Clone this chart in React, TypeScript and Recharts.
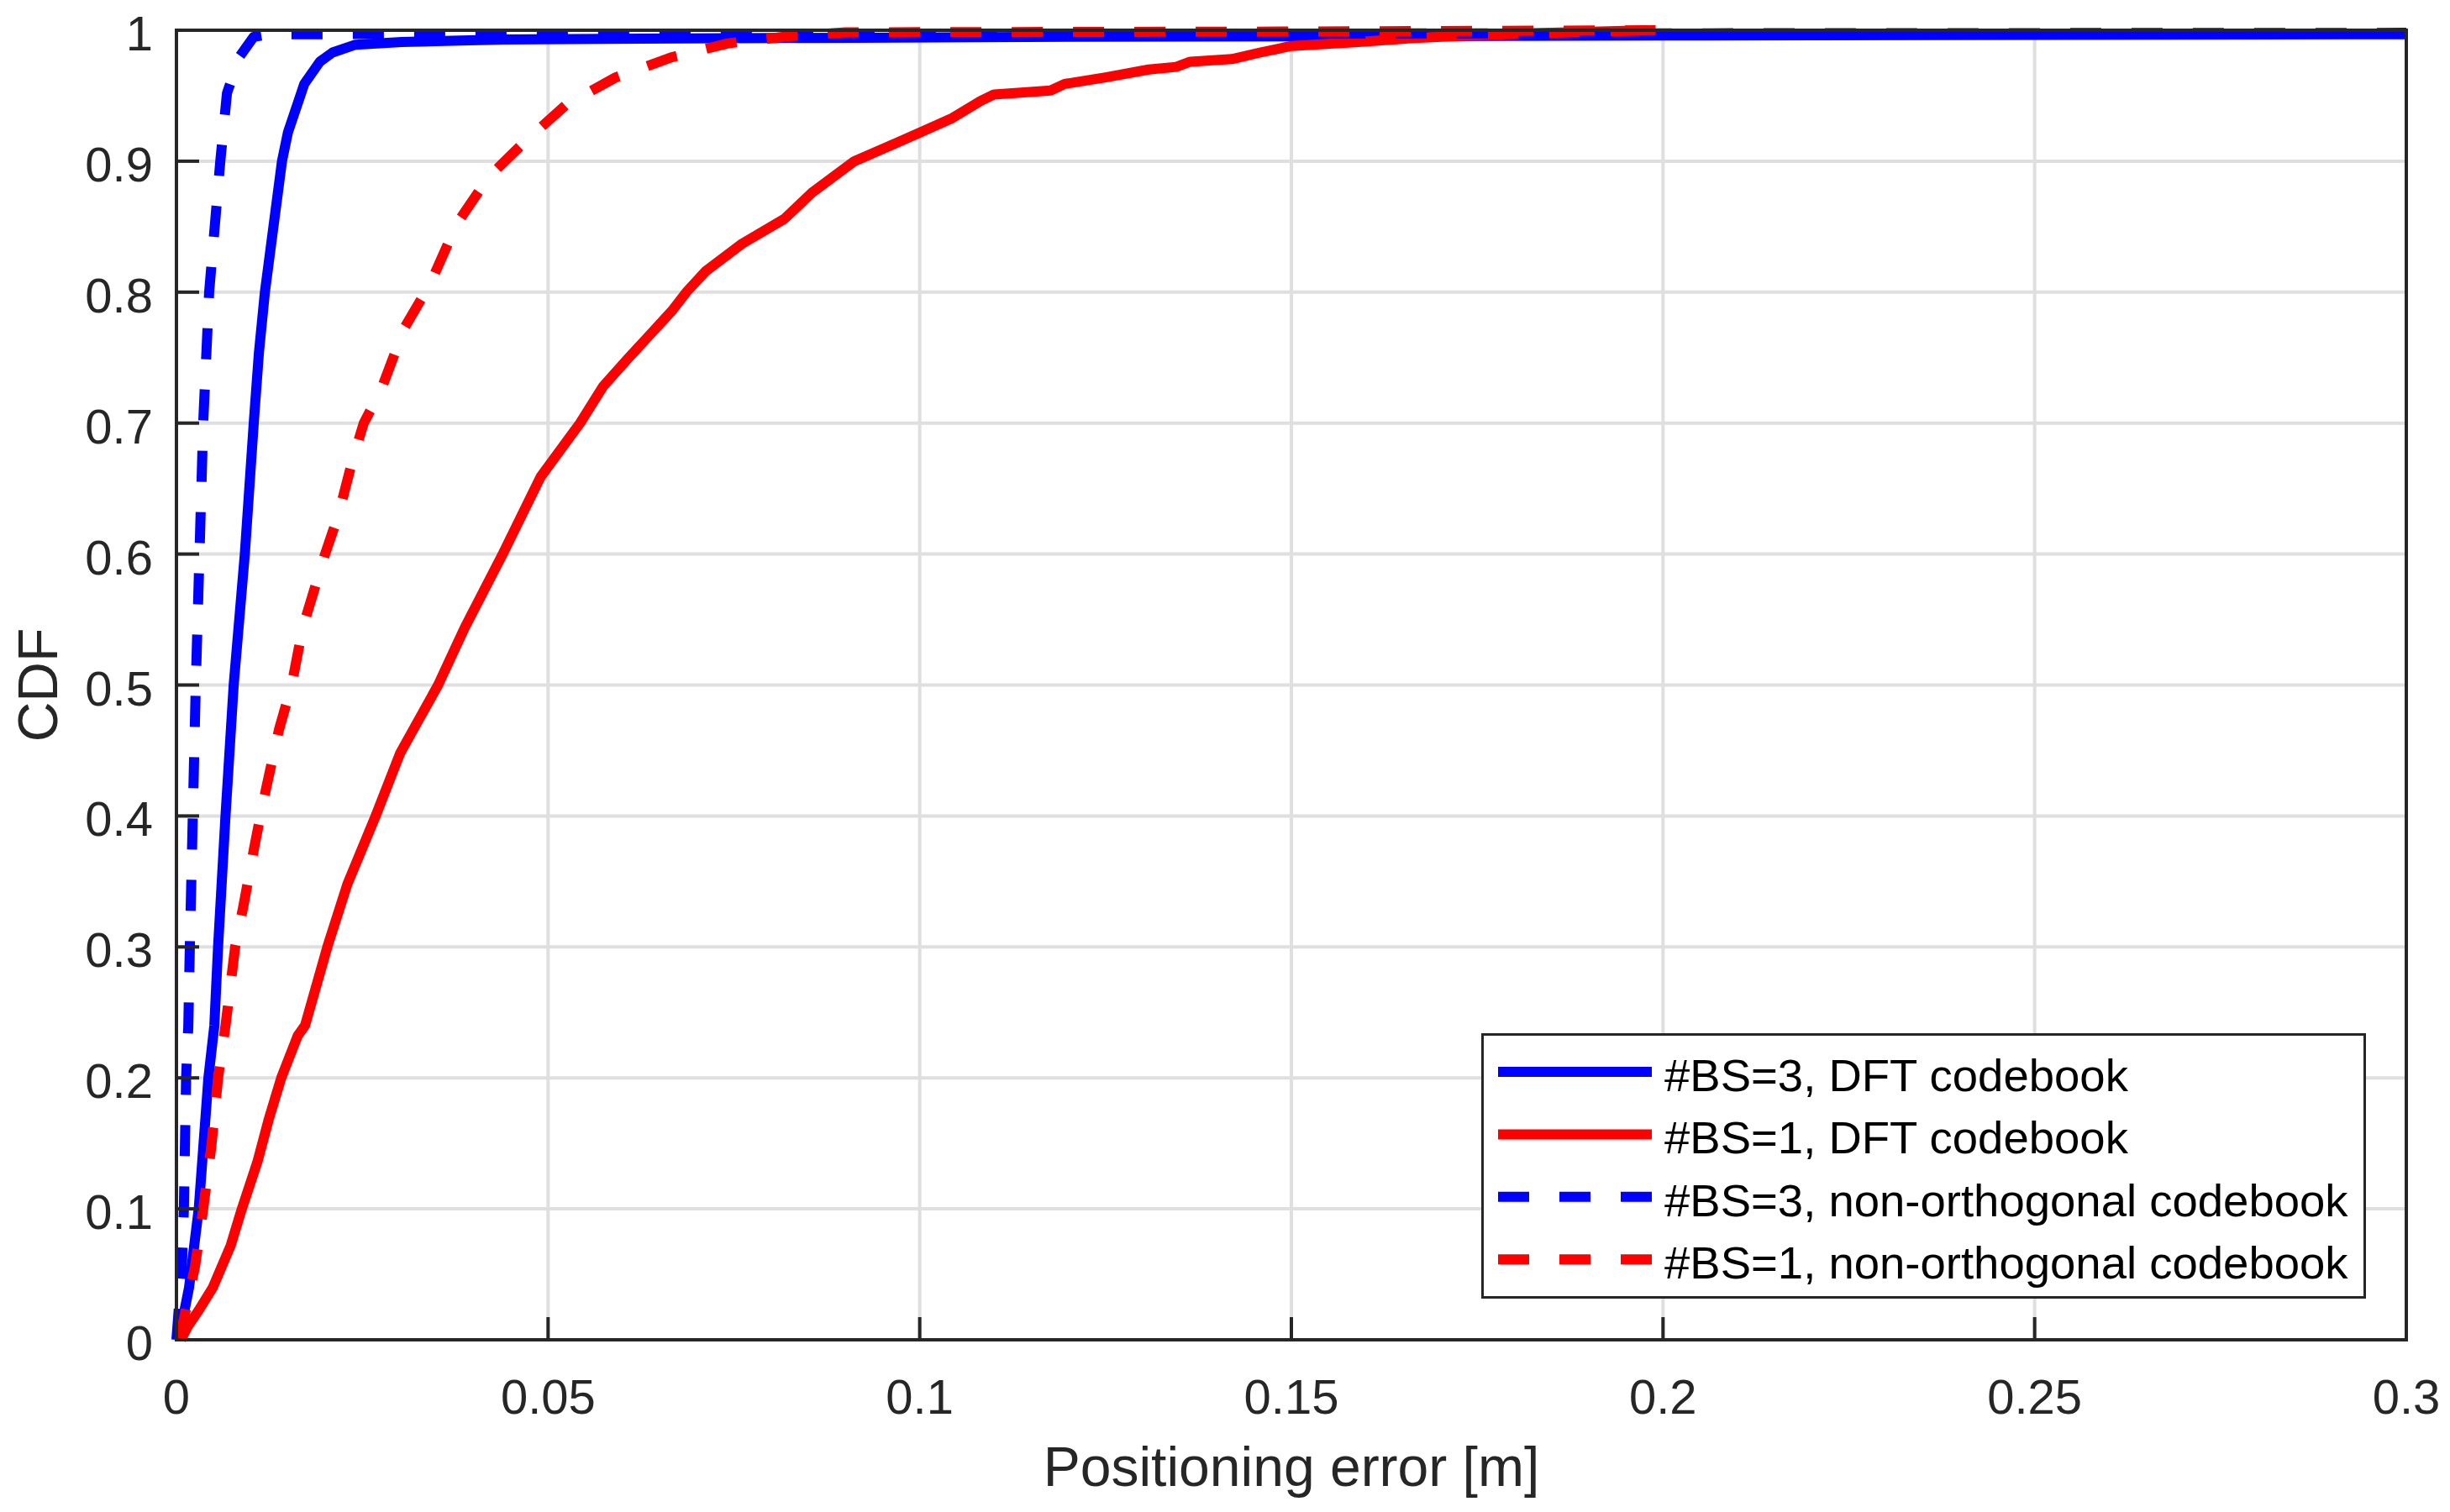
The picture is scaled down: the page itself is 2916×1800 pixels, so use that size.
import { CartesianGrid, Label, Legend, Line, LineChart, XAxis, YAxis } from 'recharts';

const FONT = '"Liberation Sans", Arial, Helvetica, sans-serif';
const AXIS_COLOR = '#262626';
const GRID_COLOR = '#dfdfdf';

const CHART_W = 2900;
const CHART_H = 1784;

const xTicks = [0, 0.05, 0.1, 0.15, 0.2, 0.25, 0.3];
const yTicks = [0, 0.1, 0.2, 0.3, 0.4, 0.5, 0.6, 0.7, 0.8, 0.9, 1];

// #BS=3, DFT codebook
const bs3DftError = [
  0.0003, 0.0017, 0.003, 0.0043, 0.0051, 0.0056, 0.0066, 0.0077, 0.0092, 0.0104, 0.0111, 0.0119,
  0.0142, 0.015, 0.0172, 0.0193, 0.021, 0.0241, 0.0303, 0.044, 0.08, 0.12, 0.2, 0.3,
];
const bs3DftCdf = [
  0, 0.04, 0.1, 0.2, 0.24, 0.3, 0.4, 0.5, 0.6, 0.7, 0.754, 0.8, 0.9, 0.922, 0.959, 0.976, 0.983,
  0.989, 0.991, 0.993, 0.994, 0.995, 0.996, 0.997,
];

// #BS=1, DFT codebook
const bs1DftError = [
  0.0006, 0.0015, 0.003, 0.0049, 0.0073, 0.0088, 0.0109, 0.0124, 0.0141, 0.0163, 0.0173, 0.0203,
  0.023, 0.0268, 0.0301, 0.0352, 0.0388, 0.0439, 0.049, 0.0543, 0.0574, 0.0607, 0.0667, 0.0686,
  0.0712, 0.0761, 0.0818, 0.0855, 0.0912, 0.0969, 0.1001, 0.1044, 0.1082, 0.11, 0.1176, 0.1195,
  0.125, 0.1308, 0.1345, 0.1364, 0.142, 0.1458, 0.15, 0.159, 0.1665, 0.174, 0.185, 0.198,
];
const bs1DftCdf = [
  0, 0.01, 0.0225, 0.04, 0.072, 0.1, 0.136, 0.168, 0.2, 0.232, 0.24, 0.3, 0.348, 0.4, 0.448, 0.5,
  0.544, 0.6, 0.659, 0.7, 0.728, 0.749, 0.786, 0.8, 0.816, 0.837, 0.856, 0.876, 0.9, 0.914, 0.922,
  0.933, 0.946, 0.951, 0.954, 0.959, 0.964, 0.97, 0.972, 0.976, 0.978, 0.983, 0.988, 0.991, 0.994,
  0.996, 0.998, 1,
];

// #BS=3, non-orthogonal codebook
const bs3NonOrthError = [
  0, 0.0004, 0.0007, 0.001, 0.0013, 0.0016, 0.0018, 0.0022, 0.0026, 0.0031, 0.0036, 0.0044,
  0.0059, 0.0068, 0.0085, 0.0104, 0.0125, 0.3,
];
const bs3NonOrthCdf = [
  0, 0.03, 0.05, 0.1, 0.2, 0.24, 0.3, 0.4, 0.5, 0.6, 0.7, 0.8, 0.9, 0.952, 0.98, 0.995, 0.997,
  0.998,
];

// #BS=1, non-orthogonal codebook
const bs1NonOrthError = [
  0.0004, 0.0025, 0.0036, 0.0047, 0.0056, 0.0066, 0.0079, 0.009, 0.0105, 0.0113, 0.0121, 0.0138,
  0.0155, 0.017, 0.02, 0.0218, 0.0237, 0.0252, 0.0275, 0.0307, 0.0342, 0.0377, 0.042, 0.0467,
  0.0524, 0.0591, 0.0667, 0.0742, 0.0825, 0.09, 0.15, 0.199,
];
const bs1NonOrthCdf = [
  0, 0.056, 0.1, 0.148, 0.2, 0.24, 0.3, 0.331, 0.377, 0.4, 0.422, 0.466, 0.5, 0.544, 0.6, 0.63,
  0.672, 0.7, 0.725, 0.773, 0.807, 0.852, 0.888, 0.914, 0.943, 0.964, 0.9795, 0.99, 0.9955,
  0.9984, 0.999, 1,
];

const toPoints = (xs: number[], ys: number[]) => xs.map((x, i) => ({ x, cdf: ys[i] }));

const series = [
  { name: '#BS=3, DFT codebook', color: '#0000ff', dashed: false, data: toPoints(bs3DftError, bs3DftCdf) },
  { name: '#BS=1, DFT codebook', color: '#ff0000', dashed: false, data: toPoints(bs1DftError, bs1DftCdf) },
  {
    name: '#BS=3, non-orthogonal codebook',
    color: '#0000ff',
    dashed: true,
    data: toPoints(bs3NonOrthError, bs3NonOrthCdf),
  },
  {
    name: '#BS=1, non-orthogonal codebook',
    color: '#ff0000',
    dashed: true,
    data: toPoints(bs1NonOrthError, bs1NonOrthCdf),
  },
];
const seriesOrder = series.map((s) => s.name);

const LEGEND_LEFT = 1755;
const LEGEND_TOP = 1222;
const LEGEND_W = 1053;
const LEGEND_H = 316;
const ROW_GAP = 74.4;

const axisLineStyle = { stroke: AXIS_COLOR, strokeWidth: 4, strokeLinecap: 'square' as const };
const tickLineStyle = { stroke: AXIS_COLOR, strokeWidth: 4 };

const XTick = ({ x, y, payload }: any) => (
  <text x={x} y={y + 41} textAnchor="middle" fill={AXIS_COLOR} fontSize={58} fontFamily={FONT}>
    {String(payload.value)}
  </text>
);

const YTick = ({ x, y, payload }: any) => (
  <text x={x} y={y + 24} textAnchor="end" fill={AXIS_COLOR} fontSize={58} fontFamily={FONT}>
    {String(payload.value)}
  </text>
);

const LegendBox = ({ payload }: any) => {
  if (!payload || !Array.isArray(payload)) return null;
  // keep the plotting order, not the alphabetical one
  const items = [...payload].sort(
    (a: any, b: any) => seriesOrder.indexOf(a.value) - seriesOrder.indexOf(b.value),
  );
  return (
    <svg width={LEGEND_W} height={LEGEND_H} style={{ display: 'block' }}>
      <rect
        x={1.5}
        y={1.5}
        width={LEGEND_W - 3}
        height={LEGEND_H - 3}
        fill="#ffffff"
        stroke={AXIS_COLOR}
        strokeWidth={3}
      />
      {items.map((entry: any, index: number) => {
        const cy = 46 + index * ROW_GAP;
        return (
          <g key={index}>
            <line
              x1={20}
              x2={203}
              y1={cy}
              y2={cy}
              stroke={entry.color}
              strokeWidth={12}
              strokeDasharray={entry.payload?.strokeDasharray}
            />
            <text x={218} y={cy + 23} fontSize={54.5} fontFamily={FONT} fill="#000000">
              {entry.value}
            </text>
          </g>
        );
      })}
    </svg>
  );
};

const App = () => {
  return (
    <div style={{ width: CHART_W, height: CHART_H, background: '#ffffff' }}>
      <LineChart
        width={CHART_W}
        height={CHART_H}
        margin={{ top: 0, right: 0, bottom: 0, left: 0 }}
        style={{ fontFamily: FONT }}
      >
        <CartesianGrid
          xAxisId="bottom"
          yAxisId="left"
          stroke={GRID_COLOR}
          strokeWidth={4}
        />
        <XAxis
          xAxisId="bottom"
          dataKey="x"
          type="number"
          domain={[0, 0.3]}
          ticks={xTicks}
          height={197}
          axisLine={axisLineStyle}
          tickLine={tickLineStyle}
          tickSize={-27}
          tickMargin={74}
          tick={<XTick />}
          interval={0}
        >
          <Label
            content={({ viewBox }: any) => (
              <text
                x={viewBox.x + viewBox.width / 2}
                y={viewBox.y + 174}
                textAnchor="middle"
                fontSize={66}
                fontFamily={FONT}
                fill={AXIS_COLOR}
              >
                Positioning error [m]
              </text>
            )}
          />
        </XAxis>
        <XAxis
          xAxisId="top"
          orientation="top"
          type="number"
          domain={[0, 0.3]}
          ticks={xTicks}
          height={28}
          axisLine={axisLineStyle}
          tickLine={tickLineStyle}
          tickSize={-27}
          tick={false}
          interval={0}
        />
        <YAxis
          yAxisId="left"
          type="number"
          domain={[0, 1]}
          ticks={yTicks}
          width={202}
          axisLine={axisLineStyle}
          tickLine={tickLineStyle}
          tickSize={-27}
          tickMargin={55}
          tick={<YTick />}
          interval={0}
        >
          <Label
            content={({ viewBox }: any) => {
              const cx = 60;
              const cy = viewBox.y + viewBox.height / 2;
              return (
                <text
                  x={cx}
                  y={cy}
                  transform={`rotate(-90, ${cx}, ${cy})`}
                  textAnchor="middle"
                  fontSize={66}
                  fontFamily={FONT}
                  fill={AXIS_COLOR}
                >
                  CDF
                </text>
              );
            }}
          />
        </YAxis>
        <YAxis
          yAxisId="right"
          orientation="right"
          type="number"
          domain={[0, 1]}
          ticks={yTicks}
          width={44}
          axisLine={axisLineStyle}
          tickLine={tickLineStyle}
          tickSize={-27}
          tick={false}
          interval={0}
        />
        {series.map((s) => (
          <Line
            key={s.name}
            xAxisId="bottom"
            yAxisId="left"
            data={s.data}
            dataKey="cdf"
            name={s.name}
            type="linear"
            stroke={s.color}
            strokeWidth={12}
            strokeDasharray={s.dashed ? '37 36' : undefined}
            strokeLinejoin="round"
            dot={false}
            activeDot={false}
            isAnimationActive={false}
          />
        ))}
        <Legend
          layout="horizontal"
          verticalAlign="middle"
          align="center"
          wrapperStyle={{ left: LEGEND_LEFT, top: LEGEND_TOP, width: LEGEND_W, height: LEGEND_H }}
          content={<LegendBox />}
        />
      </LineChart>
    </div>
  );
};

export default App;
